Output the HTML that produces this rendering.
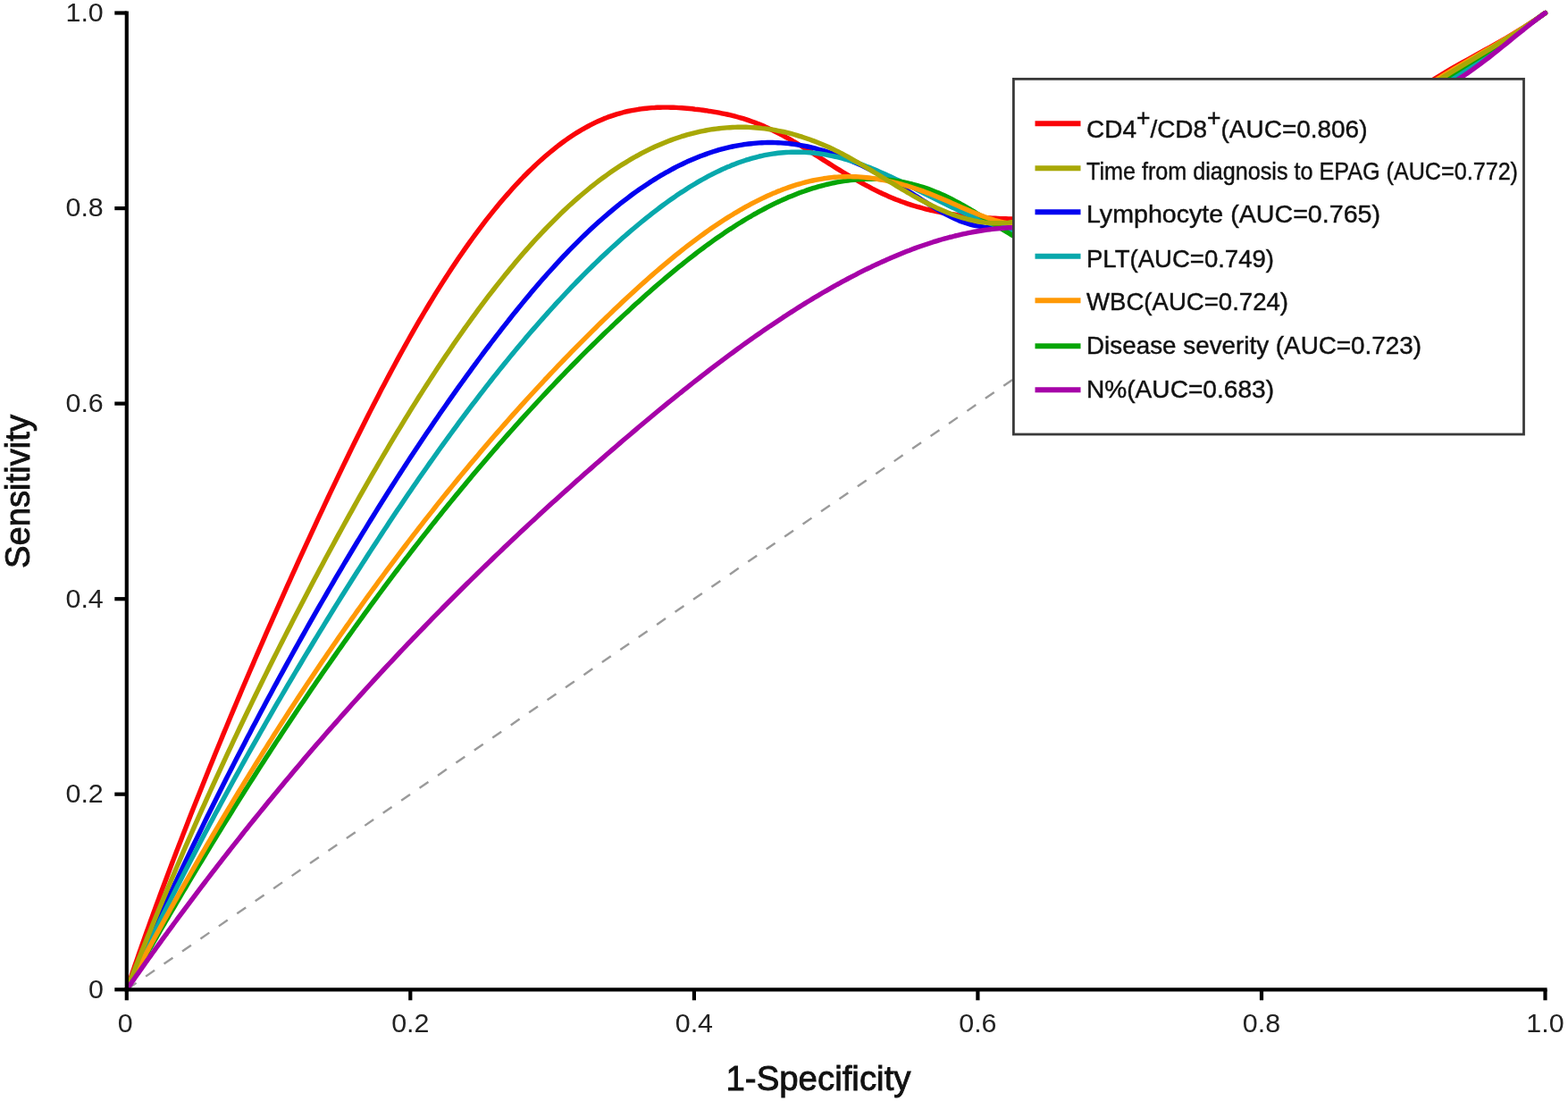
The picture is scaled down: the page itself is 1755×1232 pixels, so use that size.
<!DOCTYPE html>
<html><head><meta charset="utf-8"><title>ROC curves</title>
<style>
html,body{margin:0;padding:0;background:#fff;}
body{width:1755px;height:1232px;overflow:hidden;}
svg{display:block;}
.ax text{font-family:"Liberation Sans",Arial,sans-serif;font-size:29px;fill:#222;}
.leg text{font-family:"Liberation Sans",Arial,sans-serif;font-size:28.5px;fill:#111;stroke:#111;stroke-width:0.45px;}
.ttl{font-family:"Liberation Sans",Arial,sans-serif;font-size:39px;font-weight:normal;fill:#111;stroke:#111;stroke-width:0.9px;}
</style></head>
<body>
<svg width="1755" height="1232" viewBox="0 0 1755 1232">
<rect width="1755" height="1232" fill="#fff"/>
<line x1="141.8" y1="1107.3" x2="1729.5" y2="14.5" stroke="#9a9a9a" stroke-width="2.4" stroke-dasharray="12 12.8" stroke-dashoffset="23.7"/>
<g fill="none" stroke-width="5.4" stroke-linejoin="round" stroke-linecap="round">
<path d="M141.8,1107.3 L143.3,1102.9 L144.8,1098.4 L146.3,1094.0 L147.8,1089.7 L149.3,1085.3 L150.8,1080.9 L152.3,1076.6 L153.8,1072.3 L155.3,1068.0 L156.8,1063.7 L158.3,1059.4 L159.8,1055.2 L161.3,1051.0 L162.8,1046.7 L164.3,1042.5 L165.8,1038.4 L167.3,1034.2 L168.8,1030.0 L170.3,1025.9 L171.8,1021.7 L173.3,1017.6 L174.8,1013.5 L176.3,1009.4 L177.8,1005.4 L179.3,1001.3 L180.8,997.3 L182.3,993.2 L183.8,989.2 L185.3,985.2 L186.8,981.2 L188.3,977.2 L189.8,973.2 L191.3,969.3 L192.8,965.3 L194.3,961.4 L195.8,957.5 L197.3,953.5 L198.8,949.6 L200.3,945.7 L201.8,941.9 L204.8,934.1 L207.8,926.4 L210.8,918.7 L213.8,911.1 L216.8,903.5 L219.8,895.9 L222.8,888.4 L225.8,880.9 L228.8,873.4 L231.8,866.0 L234.8,858.6 L237.8,851.2 L240.8,843.8 L243.8,836.5 L246.8,829.2 L249.8,821.9 L252.8,814.7 L255.8,807.5 L258.8,800.3 L261.8,793.1 L264.8,786.0 L267.8,778.9 L270.8,771.8 L273.8,764.8 L276.8,757.7 L279.8,750.7 L282.8,743.8 L285.8,736.8 L288.8,729.9 L291.8,723.0 L294.8,716.1 L297.8,709.2 L300.8,702.4 L303.8,695.6 L306.8,688.8 L309.8,682.1 L312.8,675.3 L315.8,668.6 L318.8,661.9 L321.8,655.2 L324.8,648.6 L327.8,641.9 L330.8,635.3 L333.8,628.7 L336.8,622.2 L339.8,615.6 L342.8,609.1 L345.8,602.6 L348.8,596.1 L351.8,589.6 L354.8,583.1 L357.8,576.7 L360.8,570.3 L363.8,563.9 L366.8,557.5 L369.8,551.2 L372.8,544.9 L375.8,538.6 L378.8,532.3 L381.8,526.1 L384.8,519.9 L387.8,513.7 L390.8,507.5 L393.8,501.4 L396.8,495.3 L399.8,489.2 L402.8,483.2 L405.8,477.2 L408.8,471.2 L411.8,465.3 L414.8,459.4 L417.8,453.5 L420.8,447.7 L423.8,441.9 L426.8,436.1 L429.8,430.4 L432.8,424.7 L435.8,419.1 L438.8,413.5 L441.8,407.9 L444.8,402.4 L447.8,396.9 L450.8,391.5 L453.8,386.1 L456.8,380.7 L459.8,375.4 L462.8,370.1 L465.8,364.9 L468.8,359.7 L471.8,354.6 L474.8,349.5 L477.8,344.5 L480.8,339.5 L483.8,334.6 L486.8,329.7 L489.8,324.9 L492.8,320.1 L495.8,315.4 L498.8,310.7 L501.8,306.1 L504.8,301.5 L507.8,297.0 L510.8,292.5 L513.8,288.1 L516.8,283.7 L519.8,279.4 L522.8,275.1 L525.8,270.9 L528.8,266.7 L531.8,262.6 L534.8,258.6 L537.8,254.6 L540.8,250.6 L543.8,246.7 L546.8,242.9 L549.8,239.1 L552.8,235.4 L555.8,231.7 L558.8,228.1 L561.8,224.5 L564.8,221.0 L567.8,217.6 L570.8,214.2 L573.8,210.8 L576.8,207.5 L579.8,204.3 L582.8,201.2 L585.8,198.0 L588.8,195.0 L591.8,192.0 L594.8,189.1 L597.8,186.2 L600.8,183.4 L603.8,180.6 L606.8,177.9 L609.8,175.3 L612.8,172.7 L615.8,170.2 L618.8,167.8 L621.8,165.4 L624.8,163.0 L627.8,160.8 L630.8,158.5 L633.8,156.4 L636.8,154.3 L639.8,152.3 L642.8,150.3 L645.8,148.4 L648.8,146.6 L651.8,144.8 L654.8,143.1 L657.8,141.5 L660.8,139.9 L663.8,138.4 L666.8,136.9 L669.8,135.5 L672.8,134.2 L675.8,132.9 L678.8,131.8 L681.8,130.6 L684.8,129.6 L687.8,128.6 L690.8,127.6 L693.8,126.8 L696.8,126.0 L699.8,125.2 L702.8,124.5 L705.8,123.9 L708.8,123.3 L711.8,122.8 L714.8,122.3 L717.8,121.9 L720.8,121.5 L723.8,121.2 L726.8,120.9 L729.8,120.6 L732.8,120.5 L735.8,120.3 L738.8,120.2 L741.8,120.1 L744.8,120.1 L747.8,120.1 L750.8,120.2 L753.8,120.3 L756.8,120.4 L759.8,120.6 L762.8,120.8 L765.8,121.0 L768.8,121.2 L771.8,121.5 L774.8,121.8 L777.8,122.2 L780.8,122.5 L783.8,122.9 L786.8,123.3 L789.8,123.7 L792.8,124.2 L795.8,124.6 L798.8,125.1 L801.8,125.6 L804.8,126.2 L807.8,126.8 L810.8,127.4 L813.8,128.0 L816.8,128.7 L819.8,129.4 L822.8,130.2 L825.8,131.0 L828.8,131.8 L831.8,132.7 L834.8,133.6 L837.8,134.6 L840.8,135.7 L843.8,136.8 L846.8,137.9 L849.8,139.1 L852.8,140.3 L855.8,141.6 L858.8,143.0 L861.8,144.4 L864.8,145.8 L867.8,147.3 L870.8,148.8 L873.8,150.3 L876.8,151.9 L879.8,153.6 L882.8,155.2 L885.8,156.9 L888.8,158.7 L891.8,160.4 L894.8,162.2 L897.8,164.0 L900.8,165.9 L903.8,167.7 L906.8,169.6 L909.8,171.5 L912.8,173.4 L915.8,175.3 L918.8,177.2 L921.8,179.1 L924.8,181.0 L927.8,182.9 L930.8,184.8 L933.8,186.7 L936.8,188.6 L939.8,190.4 L942.8,192.2 L945.8,194.0 L948.8,195.8 L951.8,197.6 L954.8,199.3 L957.8,201.0 L960.8,202.7 L963.8,204.4 L966.8,206.0 L969.8,207.7 L972.8,209.2 L975.8,210.8 L978.8,212.3 L981.8,213.8 L984.8,215.3 L987.8,216.7 L990.8,218.0 L993.8,219.4 L996.8,220.7 L999.8,221.9 L1002.8,223.2 L1005.8,224.3 L1008.8,225.5 L1011.8,226.5 L1014.8,227.6 L1017.8,228.6 L1020.8,229.6 L1023.8,230.5 L1026.8,231.4 L1029.8,232.2 L1032.8,233.0 L1035.8,233.8 L1038.8,234.5 L1041.8,235.3 L1044.8,235.9 L1047.8,236.6 L1050.8,237.2 L1053.8,237.8 L1056.8,238.3 L1059.8,238.8 L1062.8,239.3 L1065.8,239.8 L1068.8,240.2 L1071.8,240.7 L1074.8,241.1 L1077.8,241.4 L1080.8,241.8 L1083.8,242.1 L1086.8,242.4 L1089.8,242.7 L1092.8,242.9 L1095.8,243.2 L1098.8,243.4 L1101.8,243.6 L1104.8,243.8 L1107.8,244.0 L1110.8,244.2 L1113.8,244.3 L1116.8,244.4 L1119.8,244.6 L1122.8,244.7 L1125.8,244.8 L1128.8,244.9 L1131.8,245.0 L1134.0,245.0 L1145.8,245.2 L1157.6,245.1 L1169.4,244.8 L1181.2,244.3 L1193.0,243.5 L1204.8,242.4 L1216.6,241.1 L1228.4,239.6 L1240.2,237.9 L1252.0,235.9 L1263.8,233.8 L1275.6,231.3 L1287.4,228.7 L1299.2,225.9 L1311.0,222.9 L1322.8,219.6 L1334.6,216.2 L1346.4,212.5 L1358.2,208.7 L1370.0,204.6 L1381.8,200.4 L1393.6,196.0 L1405.4,191.4 L1417.2,186.6 L1429.0,181.6 L1440.8,176.5 L1452.6,171.2 L1464.4,165.7 L1476.2,160.1 L1488.0,154.3 L1499.8,148.3 L1511.6,142.2 L1523.4,135.9 L1535.2,129.5 L1547.0,122.9 L1558.8,116.2 L1570.6,109.4 L1582.4,102.4 L1594.2,95.3 L1606.0,88.0 L1612.2,84.2 L1618.3,80.5 L1624.5,76.9 L1630.7,73.4 L1636.9,69.9 L1643.0,66.5 L1649.2,63.0 L1655.4,59.6 L1661.6,56.2 L1667.8,52.8 L1673.9,49.3 L1680.1,45.8 L1686.3,42.3 L1692.5,38.6 L1698.6,34.9 L1704.8,31.1 L1711.0,27.1 L1717.2,23.1 L1723.3,18.9 L1729.5,14.5" stroke="#fa0408"/>
<path d="M141.8,1107.3 L143.3,1103.9 L144.8,1100.5 L146.3,1097.1 L147.8,1093.8 L149.3,1090.4 L150.8,1087.0 L152.3,1083.7 L153.8,1080.3 L155.3,1077.0 L156.8,1073.6 L158.3,1070.3 L159.8,1067.0 L161.3,1063.7 L162.8,1060.3 L164.3,1057.0 L165.8,1053.7 L167.3,1050.4 L168.8,1047.2 L170.3,1043.9 L171.8,1040.6 L173.3,1037.3 L174.8,1034.1 L176.3,1030.8 L177.8,1027.5 L179.3,1024.3 L180.8,1021.1 L182.3,1017.8 L183.8,1014.6 L185.3,1011.4 L186.8,1008.2 L188.3,1004.9 L189.8,1001.7 L191.3,998.5 L192.8,995.3 L194.3,992.2 L195.8,989.0 L197.3,985.8 L198.8,982.6 L200.3,979.5 L201.8,976.3 L204.8,970.0 L207.8,963.7 L210.8,957.5 L213.8,951.2 L216.8,945.0 L219.8,938.9 L222.8,932.7 L225.8,926.6 L228.8,920.4 L231.8,914.3 L234.8,908.3 L237.8,902.2 L240.8,896.2 L243.8,890.2 L246.8,884.2 L249.8,878.3 L252.8,872.3 L255.8,866.4 L258.8,860.5 L261.8,854.6 L264.8,848.8 L267.8,843.0 L270.8,837.2 L273.8,831.4 L276.8,825.6 L279.8,819.9 L282.8,814.1 L285.8,808.4 L288.8,802.7 L291.8,797.1 L294.8,791.5 L297.8,785.8 L300.8,780.2 L303.8,774.7 L306.8,769.1 L309.8,763.6 L312.8,758.0 L315.8,752.6 L318.8,747.1 L321.8,741.6 L324.8,736.2 L327.8,730.8 L330.8,725.4 L333.8,720.0 L336.8,714.6 L339.8,709.3 L342.8,704.0 L345.8,698.7 L348.8,693.4 L351.8,688.1 L354.8,682.9 L357.8,677.7 L360.8,672.5 L363.8,667.3 L366.8,662.1 L369.8,657.0 L372.8,651.8 L375.8,646.7 L378.8,641.6 L381.8,636.6 L384.8,631.5 L387.8,626.5 L390.8,621.5 L393.8,616.5 L396.8,611.5 L399.8,606.5 L402.8,601.6 L405.8,596.7 L408.8,591.8 L411.8,586.9 L414.8,582.0 L417.8,577.2 L420.8,572.3 L423.8,567.5 L426.8,562.7 L429.8,558.0 L432.8,553.2 L435.8,548.5 L438.8,543.8 L441.8,539.1 L444.8,534.4 L447.8,529.7 L450.8,525.1 L453.8,520.5 L456.8,515.9 L459.8,511.3 L462.8,506.8 L465.8,502.2 L468.8,497.7 L471.8,493.2 L474.8,488.7 L477.8,484.3 L480.8,479.9 L483.8,475.4 L486.8,471.0 L489.8,466.7 L492.8,462.3 L495.8,458.0 L498.8,453.7 L501.8,449.4 L504.8,445.1 L507.8,440.9 L510.8,436.6 L513.8,432.4 L516.8,428.2 L519.8,424.1 L522.8,419.9 L525.8,415.8 L528.8,411.7 L531.8,407.6 L534.8,403.5 L537.8,399.5 L540.8,395.4 L543.8,391.4 L546.8,387.5 L549.8,383.5 L552.8,379.6 L555.8,375.7 L558.8,371.8 L561.8,367.9 L564.8,364.1 L567.8,360.3 L570.8,356.5 L573.8,352.7 L576.8,349.0 L579.8,345.3 L582.8,341.6 L585.8,337.9 L588.8,334.3 L591.8,330.7 L594.8,327.1 L597.8,323.6 L600.8,320.1 L603.8,316.6 L606.8,313.1 L609.8,309.7 L612.8,306.3 L615.8,303.0 L618.8,299.7 L621.8,296.4 L624.8,293.1 L627.8,289.9 L630.8,286.7 L633.8,283.6 L636.8,280.4 L639.8,277.4 L642.8,274.3 L645.8,271.3 L648.8,268.3 L651.8,265.4 L654.8,262.5 L657.8,259.6 L660.8,256.8 L663.8,254.0 L666.8,251.3 L669.8,248.6 L672.8,245.9 L675.8,243.3 L678.8,240.7 L681.8,238.1 L684.8,235.6 L687.8,233.1 L690.8,230.7 L693.8,228.2 L696.8,225.9 L699.8,223.6 L702.8,221.3 L705.8,219.0 L708.8,216.8 L711.8,214.6 L714.8,212.5 L717.8,210.4 L720.8,208.4 L723.8,206.4 L726.8,204.4 L729.8,202.5 L732.8,200.6 L735.8,198.7 L738.8,196.9 L741.8,195.2 L744.8,193.4 L747.8,191.8 L750.8,190.1 L753.8,188.5 L756.8,186.9 L759.8,185.4 L762.8,184.0 L765.8,182.5 L768.8,181.1 L771.8,179.8 L774.8,178.5 L777.8,177.2 L780.8,176.0 L783.8,174.8 L786.8,173.7 L789.8,172.6 L792.8,171.5 L795.8,170.5 L798.8,169.5 L801.8,168.6 L804.8,167.7 L807.8,166.9 L810.8,166.1 L813.8,165.4 L816.8,164.7 L819.8,164.0 L822.8,163.4 L825.8,162.8 L828.8,162.3 L831.8,161.8 L834.8,161.4 L837.8,161.0 L840.8,160.7 L843.8,160.4 L846.8,160.1 L849.8,159.9 L852.8,159.7 L855.8,159.6 L858.8,159.5 L861.8,159.5 L864.8,159.5 L867.8,159.6 L870.8,159.7 L873.8,159.9 L876.8,160.1 L879.8,160.3 L882.8,160.6 L885.8,161.0 L888.8,161.4 L891.8,161.8 L894.8,162.3 L897.8,162.8 L900.8,163.4 L903.8,164.0 L906.8,164.7 L909.8,165.4 L912.8,166.2 L915.8,167.0 L918.8,167.8 L921.8,168.7 L924.8,169.6 L927.8,170.6 L930.8,171.6 L933.8,172.6 L936.8,173.7 L939.8,174.8 L942.8,175.9 L945.8,177.1 L948.8,178.3 L951.8,179.6 L954.8,180.9 L957.8,182.2 L960.8,183.5 L963.8,184.9 L966.8,186.3 L969.8,187.8 L972.8,189.3 L975.8,190.8 L978.8,192.3 L981.8,193.9 L984.8,195.5 L987.8,197.1 L990.8,198.7 L993.8,200.4 L996.8,202.1 L999.8,203.8 L1002.8,205.6 L1005.8,207.4 L1008.8,209.2 L1011.8,211.0 L1014.8,212.8 L1017.8,214.7 L1020.8,216.6 L1023.8,218.5 L1026.8,220.4 L1029.8,222.3 L1032.8,224.2 L1035.8,226.1 L1038.8,228.0 L1041.8,229.9 L1044.8,231.8 L1047.8,233.6 L1050.8,235.4 L1053.8,237.1 L1056.8,238.8 L1059.8,240.4 L1062.8,241.9 L1065.8,243.4 L1068.8,244.8 L1071.8,246.1 L1074.8,247.4 L1077.8,248.5 L1080.8,249.5 L1083.8,250.4 L1086.8,251.3 L1089.8,252.0 L1092.8,252.7 L1095.8,253.2 L1098.8,253.7 L1101.8,254.2 L1104.8,254.5 L1107.8,254.8 L1110.8,255.0 L1113.8,255.1 L1116.8,255.2 L1119.8,255.2 L1122.8,255.2 L1125.8,255.1 L1128.8,254.9 L1131.8,254.8 L1134.0,254.6 L1146.2,253.5 L1158.3,252.3 L1170.5,250.9 L1182.7,249.3 L1194.9,247.7 L1207.0,245.8 L1219.2,243.8 L1231.4,241.7 L1243.6,239.4 L1255.8,237.0 L1267.9,234.4 L1280.1,231.6 L1292.3,228.7 L1304.5,225.7 L1316.6,222.5 L1328.8,219.1 L1341.0,215.5 L1353.2,211.8 L1365.3,208.0 L1377.5,204.0 L1389.7,199.8 L1401.8,195.4 L1414.0,190.9 L1426.2,186.2 L1438.4,181.4 L1450.5,176.3 L1462.7,171.2 L1474.9,165.8 L1487.1,160.3 L1499.2,154.6 L1511.4,148.7 L1523.6,142.7 L1535.8,136.5 L1548.0,130.1 L1560.1,123.5 L1572.3,116.8 L1584.5,109.8 L1596.7,102.7 L1608.8,95.5 L1621.0,88.0 L1626.4,84.6 L1631.8,81.2 L1637.3,77.7 L1642.7,74.2 L1648.1,70.7 L1653.5,67.2 L1659.0,63.6 L1664.4,59.9 L1669.8,56.3 L1675.2,52.6 L1680.7,48.9 L1686.1,45.2 L1691.5,41.4 L1697.0,37.6 L1702.4,33.8 L1707.8,30.0 L1713.2,26.1 L1718.7,22.3 L1724.1,18.4 L1729.5,14.5" stroke="#0202f0"/>
<path d="M141.8,1107.3 L143.3,1104.1 L144.8,1101.0 L146.3,1097.8 L147.8,1094.7 L149.3,1091.5 L150.8,1088.4 L152.3,1085.3 L153.8,1082.2 L155.3,1079.0 L156.8,1075.9 L158.3,1072.8 L159.8,1069.7 L161.3,1066.7 L162.8,1063.6 L164.3,1060.5 L165.8,1057.4 L167.3,1054.4 L168.8,1051.3 L170.3,1048.2 L171.8,1045.2 L173.3,1042.2 L174.8,1039.1 L176.3,1036.1 L177.8,1033.1 L179.3,1030.0 L180.8,1027.0 L182.3,1024.0 L183.8,1021.0 L185.3,1018.0 L186.8,1015.0 L188.3,1012.1 L189.8,1009.1 L191.3,1006.1 L192.8,1003.1 L194.3,1000.2 L195.8,997.2 L197.3,994.3 L198.8,991.3 L200.3,988.4 L201.8,985.5 L204.8,979.6 L207.8,973.8 L210.8,968.0 L213.8,962.2 L216.8,956.5 L219.8,950.7 L222.8,945.0 L225.8,939.3 L228.8,933.6 L231.8,928.0 L234.8,922.3 L237.8,916.7 L240.8,911.1 L243.8,905.6 L246.8,900.0 L249.8,894.5 L252.8,889.0 L255.8,883.5 L258.8,878.0 L261.8,872.5 L264.8,867.1 L267.8,861.7 L270.8,856.3 L273.8,850.9 L276.8,845.5 L279.8,840.2 L282.8,834.9 L285.8,829.6 L288.8,824.3 L291.8,819.0 L294.8,813.8 L297.8,808.5 L300.8,803.3 L303.8,798.1 L306.8,792.9 L309.8,787.7 L312.8,782.6 L315.8,777.5 L318.8,772.3 L321.8,767.2 L324.8,762.1 L327.8,757.1 L330.8,752.0 L333.8,747.0 L336.8,742.0 L339.8,736.9 L342.8,731.9 L345.8,727.0 L348.8,722.0 L351.8,717.0 L354.8,712.1 L357.8,707.2 L360.8,702.3 L363.8,697.4 L366.8,692.5 L369.8,687.6 L372.8,682.8 L375.8,677.9 L378.8,673.1 L381.8,668.3 L384.8,663.5 L387.8,658.7 L390.8,654.0 L393.8,649.2 L396.8,644.5 L399.8,639.8 L402.8,635.1 L405.8,630.4 L408.8,625.7 L411.8,621.0 L414.8,616.4 L417.8,611.8 L420.8,607.2 L423.8,602.6 L426.8,598.0 L429.8,593.4 L432.8,588.9 L435.8,584.3 L438.8,579.8 L441.8,575.3 L444.8,570.8 L447.8,566.4 L450.8,561.9 L453.8,557.5 L456.8,553.1 L459.8,548.7 L462.8,544.3 L465.8,540.0 L468.8,535.6 L471.8,531.3 L474.8,527.0 L477.8,522.7 L480.8,518.4 L483.8,514.2 L486.8,510.0 L489.8,505.7 L492.8,501.5 L495.8,497.4 L498.8,493.2 L501.8,489.1 L504.8,485.0 L507.8,480.9 L510.8,476.8 L513.8,472.7 L516.8,468.7 L519.8,464.7 L522.8,460.6 L525.8,456.7 L528.8,452.7 L531.8,448.8 L534.8,444.8 L537.8,440.9 L540.8,437.1 L543.8,433.2 L546.8,429.4 L549.8,425.5 L552.8,421.7 L555.8,418.0 L558.8,414.2 L561.8,410.5 L564.8,406.8 L567.8,403.1 L570.8,399.4 L573.8,395.8 L576.8,392.1 L579.8,388.5 L582.8,384.9 L585.8,381.4 L588.8,377.8 L591.8,374.3 L594.8,370.8 L597.8,367.4 L600.8,363.9 L603.8,360.5 L606.8,357.1 L609.8,353.7 L612.8,350.4 L615.8,347.0 L618.8,343.7 L621.8,340.4 L624.8,337.2 L627.8,334.0 L630.8,330.7 L633.8,327.5 L636.8,324.4 L639.8,321.2 L642.8,318.1 L645.8,315.0 L648.8,312.0 L651.8,308.9 L654.8,305.9 L657.8,302.9 L660.8,300.0 L663.8,297.0 L666.8,294.1 L669.8,291.2 L672.8,288.3 L675.8,285.5 L678.8,282.7 L681.8,279.9 L684.8,277.1 L687.8,274.4 L690.8,271.7 L693.8,269.0 L696.8,266.3 L699.8,263.7 L702.8,261.1 L705.8,258.5 L708.8,256.0 L711.8,253.5 L714.8,251.0 L717.8,248.5 L720.8,246.1 L723.8,243.6 L726.8,241.3 L729.8,238.9 L732.8,236.6 L735.8,234.3 L738.8,232.0 L741.8,229.8 L744.8,227.6 L747.8,225.4 L750.8,223.3 L753.8,221.2 L756.8,219.1 L759.8,217.1 L762.8,215.1 L765.8,213.2 L768.8,211.2 L771.8,209.3 L774.8,207.5 L777.8,205.7 L780.8,203.9 L783.8,202.2 L786.8,200.5 L789.8,198.8 L792.8,197.2 L795.8,195.7 L798.8,194.1 L801.8,192.6 L804.8,191.2 L807.8,189.8 L810.8,188.4 L813.8,187.1 L816.8,185.9 L819.8,184.6 L822.8,183.5 L825.8,182.3 L828.8,181.2 L831.8,180.2 L834.8,179.2 L837.8,178.3 L840.8,177.4 L843.8,176.6 L846.8,175.8 L849.8,175.0 L852.8,174.3 L855.8,173.7 L858.8,173.1 L861.8,172.6 L864.8,172.1 L867.8,171.7 L870.8,171.3 L873.8,171.0 L876.8,170.7 L879.8,170.5 L882.8,170.4 L885.8,170.2 L888.8,170.2 L891.8,170.2 L894.8,170.2 L897.8,170.3 L900.8,170.4 L903.8,170.6 L906.8,170.8 L909.8,171.1 L912.8,171.4 L915.8,171.8 L918.8,172.2 L921.8,172.7 L924.8,173.2 L927.8,173.8 L930.8,174.4 L933.8,175.0 L936.8,175.7 L939.8,176.4 L942.8,177.2 L945.8,178.1 L948.8,178.9 L951.8,179.8 L954.8,180.8 L957.8,181.8 L960.8,182.8 L963.8,183.9 L966.8,185.0 L969.8,186.2 L972.8,187.3 L975.8,188.6 L978.8,189.8 L981.8,191.1 L984.8,192.4 L987.8,193.7 L990.8,195.0 L993.8,196.4 L996.8,197.8 L999.8,199.2 L1002.8,200.6 L1005.8,202.0 L1008.8,203.5 L1011.8,205.0 L1014.8,206.5 L1017.8,207.9 L1020.8,209.4 L1023.8,210.9 L1026.8,212.5 L1029.8,214.0 L1032.8,215.5 L1035.8,217.0 L1038.8,218.5 L1041.8,220.1 L1044.8,221.6 L1047.8,223.1 L1050.8,224.6 L1053.8,226.1 L1056.8,227.6 L1059.8,229.0 L1062.8,230.5 L1065.8,232.0 L1068.8,233.4 L1071.8,234.8 L1074.8,236.2 L1077.8,237.6 L1080.8,238.9 L1083.8,240.3 L1086.8,241.6 L1089.8,242.9 L1092.8,244.1 L1095.8,245.3 L1098.8,246.5 L1101.8,247.7 L1104.8,248.8 L1107.8,249.9 L1110.8,251.0 L1113.8,252.0 L1116.8,253.0 L1119.8,253.9 L1122.8,254.8 L1125.8,255.7 L1128.8,256.5 L1131.8,257.2 L1134.0,257.8 L1146.2,260.4 L1158.5,262.4 L1170.8,264.0 L1183.0,265.0 L1195.2,265.6 L1207.5,265.7 L1219.8,265.3 L1232.0,264.5 L1244.2,263.2 L1256.5,261.6 L1268.8,259.5 L1281.0,257.0 L1293.2,254.2 L1305.5,251.0 L1317.8,247.5 L1330.0,243.6 L1342.2,239.5 L1354.5,235.0 L1366.8,230.2 L1379.0,225.1 L1391.2,219.8 L1403.5,214.3 L1415.8,208.5 L1428.0,202.5 L1440.2,196.3 L1452.5,189.9 L1464.8,183.3 L1477.0,176.5 L1489.2,169.6 L1501.5,162.6 L1513.8,155.5 L1526.0,148.2 L1538.2,140.9 L1550.5,133.4 L1562.8,125.9 L1575.0,118.4 L1587.2,110.8 L1599.5,103.2 L1611.8,95.6 L1624.0,88.0 L1629.3,84.7 L1634.5,81.3 L1639.8,77.9 L1645.1,74.4 L1650.4,70.9 L1655.7,67.3 L1660.9,63.7 L1666.2,60.0 L1671.5,56.3 L1676.8,52.6 L1682.0,48.8 L1687.3,45.0 L1692.6,41.2 L1697.8,37.4 L1703.1,33.6 L1708.4,29.8 L1713.7,25.9 L1719.0,22.1 L1724.2,18.3 L1729.5,14.5" stroke="#08a8ac"/>
<path d="M141.8,1107.3 L143.3,1104.6 L144.8,1102.0 L146.3,1099.3 L147.8,1096.6 L149.3,1094.0 L150.8,1091.3 L152.3,1088.7 L153.8,1086.0 L155.3,1083.4 L156.8,1080.7 L158.3,1078.1 L159.8,1075.5 L161.3,1072.8 L162.8,1070.2 L164.3,1067.6 L165.8,1065.0 L167.3,1062.3 L168.8,1059.7 L170.3,1057.1 L171.8,1054.5 L173.3,1051.9 L174.8,1049.3 L176.3,1046.7 L177.8,1044.1 L179.3,1041.5 L180.8,1038.9 L182.3,1036.4 L183.8,1033.8 L185.3,1031.2 L186.8,1028.6 L188.3,1026.1 L189.8,1023.5 L191.3,1020.9 L192.8,1018.4 L194.3,1015.8 L195.8,1013.3 L197.3,1010.7 L198.8,1008.2 L200.3,1005.6 L201.8,1003.1 L204.8,998.0 L207.8,993.0 L210.8,987.9 L213.8,982.9 L216.8,977.9 L219.8,972.9 L222.8,967.9 L225.8,963.0 L228.8,958.0 L231.8,953.1 L234.8,948.1 L237.8,943.2 L240.8,938.3 L243.8,933.4 L246.8,928.6 L249.8,923.7 L252.8,918.9 L255.8,914.0 L258.8,909.2 L261.8,904.4 L264.8,899.6 L267.8,894.8 L270.8,890.1 L273.8,885.3 L276.8,880.6 L279.8,875.9 L282.8,871.2 L285.8,866.5 L288.8,861.8 L291.8,857.1 L294.8,852.5 L297.8,847.8 L300.8,843.2 L303.8,838.6 L306.8,834.0 L309.8,829.4 L312.8,824.9 L315.8,820.3 L318.8,815.8 L321.8,811.2 L324.8,806.7 L327.8,802.2 L330.8,797.7 L333.8,793.3 L336.8,788.8 L339.8,784.4 L342.8,779.9 L345.8,775.5 L348.8,771.1 L351.8,766.7 L354.8,762.3 L357.8,758.0 L360.8,753.6 L363.8,749.3 L366.8,745.0 L369.8,740.7 L372.8,736.4 L375.8,732.1 L378.8,727.8 L381.8,723.6 L384.8,719.3 L387.8,715.1 L390.8,710.9 L393.8,706.7 L396.8,702.5 L399.8,698.4 L402.8,694.2 L405.8,690.1 L408.8,685.9 L411.8,681.8 L414.8,677.7 L417.8,673.6 L420.8,669.6 L423.8,665.5 L426.8,661.5 L429.8,657.4 L432.8,653.4 L435.8,649.4 L438.8,645.4 L441.8,641.4 L444.8,637.5 L447.8,633.5 L450.8,629.6 L453.8,625.7 L456.8,621.8 L459.8,617.9 L462.8,614.0 L465.8,610.1 L468.8,606.3 L471.8,602.4 L474.8,598.6 L477.8,594.8 L480.8,591.0 L483.8,587.2 L486.8,583.5 L489.8,579.7 L492.8,576.0 L495.8,572.2 L498.8,568.5 L501.8,564.8 L504.8,561.1 L507.8,557.5 L510.8,553.8 L513.8,550.2 L516.8,546.5 L519.8,542.9 L522.8,539.3 L525.8,535.7 L528.8,532.1 L531.8,528.6 L534.8,525.0 L537.8,521.5 L540.8,518.0 L543.8,514.5 L546.8,511.0 L549.8,507.5 L552.8,504.0 L555.8,500.6 L558.8,497.1 L561.8,493.7 L564.8,490.3 L567.8,486.9 L570.8,483.5 L573.8,480.2 L576.8,476.8 L579.8,473.5 L582.8,470.1 L585.8,466.8 L588.8,463.5 L591.8,460.2 L594.8,457.0 L597.8,453.7 L600.8,450.5 L603.8,447.2 L606.8,444.0 L609.8,440.8 L612.8,437.6 L615.8,434.4 L618.8,431.3 L621.8,428.1 L624.8,425.0 L627.8,421.9 L630.8,418.8 L633.8,415.7 L636.8,412.6 L639.8,409.5 L642.8,406.5 L645.8,403.5 L648.8,400.4 L651.8,397.4 L654.8,394.4 L657.8,391.4 L660.8,388.5 L663.8,385.5 L666.8,382.6 L669.8,379.6 L672.8,376.7 L675.8,373.8 L678.8,370.9 L681.8,368.1 L684.8,365.2 L687.8,362.4 L690.8,359.5 L693.8,356.7 L696.8,353.9 L699.8,351.1 L702.8,348.4 L705.8,345.6 L708.8,342.8 L711.8,340.1 L714.8,337.4 L717.8,334.7 L720.8,332.0 L723.8,329.3 L726.8,326.7 L729.8,324.0 L732.8,321.4 L735.8,318.8 L738.8,316.2 L741.8,313.7 L744.8,311.1 L747.8,308.6 L750.8,306.1 L753.8,303.6 L756.8,301.1 L759.8,298.7 L762.8,296.3 L765.8,293.9 L768.8,291.5 L771.8,289.1 L774.8,286.8 L777.8,284.5 L780.8,282.2 L783.8,279.9 L786.8,277.7 L789.8,275.4 L792.8,273.3 L795.8,271.1 L798.8,268.9 L801.8,266.8 L804.8,264.7 L807.8,262.7 L810.8,260.6 L813.8,258.6 L816.8,256.6 L819.8,254.7 L822.8,252.7 L825.8,250.8 L828.8,249.0 L831.8,247.1 L834.8,245.3 L837.8,243.5 L840.8,241.8 L843.8,240.0 L846.8,238.4 L849.8,236.7 L852.8,235.1 L855.8,233.5 L858.8,231.9 L861.8,230.4 L864.8,228.9 L867.8,227.4 L870.8,226.0 L873.8,224.6 L876.8,223.2 L879.8,221.9 L882.8,220.6 L885.8,219.4 L888.8,218.2 L891.8,217.0 L894.8,215.8 L897.8,214.7 L900.8,213.7 L903.8,212.6 L906.8,211.6 L909.8,210.7 L912.8,209.8 L915.8,208.9 L918.8,208.1 L921.8,207.3 L924.8,206.5 L927.8,205.8 L930.8,205.1 L933.8,204.5 L936.8,203.9 L939.8,203.4 L942.8,202.9 L945.8,202.4 L948.8,202.0 L951.8,201.6 L954.8,201.3 L957.8,201.0 L960.8,200.8 L963.8,200.6 L966.8,200.5 L969.8,200.4 L972.8,200.3 L975.8,200.3 L978.8,200.3 L981.8,200.4 L984.8,200.6 L987.8,200.7 L990.8,201.0 L993.8,201.3 L996.8,201.6 L999.8,202.0 L1002.8,202.4 L1005.8,202.9 L1008.8,203.4 L1011.8,204.0 L1014.8,204.6 L1017.8,205.3 L1020.8,206.0 L1023.8,206.8 L1026.8,207.6 L1029.8,208.5 L1032.8,209.4 L1035.8,210.4 L1038.8,211.4 L1041.8,212.5 L1044.8,213.7 L1047.8,214.9 L1050.8,216.1 L1053.8,217.4 L1056.8,218.8 L1059.8,220.2 L1062.8,221.7 L1065.8,223.2 L1068.8,224.8 L1071.8,226.4 L1074.8,228.0 L1077.8,229.7 L1080.8,231.4 L1083.8,233.1 L1086.8,234.9 L1089.8,236.6 L1092.8,238.5 L1095.8,240.3 L1098.8,242.1 L1101.8,244.0 L1104.8,245.8 L1107.8,247.7 L1110.8,249.6 L1113.8,251.5 L1116.8,253.3 L1119.8,255.2 L1122.8,257.1 L1125.8,258.9 L1128.8,260.8 L1131.8,262.6 L1134.0,263.9 L1146.1,270.7 L1158.2,276.5 L1170.2,281.3 L1182.3,285.2 L1194.4,288.2 L1206.5,290.4 L1218.5,291.8 L1230.6,292.4 L1242.7,292.2 L1254.8,291.3 L1266.8,289.7 L1278.9,287.5 L1291.0,284.6 L1303.0,281.1 L1315.1,277.1 L1327.2,272.5 L1339.3,267.5 L1351.3,262.0 L1363.4,256.0 L1375.5,249.7 L1387.6,243.0 L1399.7,235.9 L1411.7,228.5 L1423.8,220.9 L1435.9,213.0 L1448.0,205.0 L1460.0,196.7 L1472.1,188.3 L1484.2,179.8 L1496.2,171.2 L1508.3,162.6 L1520.4,153.9 L1532.5,145.3 L1544.5,136.7 L1556.6,128.2 L1568.7,119.8 L1580.8,111.5 L1592.8,103.5 L1604.9,95.6 L1617.0,88.0 L1622.6,84.5 L1628.2,81.0 L1633.9,77.5 L1639.5,74.0 L1645.1,70.5 L1650.8,67.0 L1656.4,63.4 L1662.0,59.9 L1667.6,56.3 L1673.2,52.7 L1678.9,49.0 L1684.5,45.3 L1690.1,41.6 L1695.8,37.9 L1701.4,34.1 L1707.0,30.3 L1712.6,26.4 L1718.2,22.5 L1723.9,18.5 L1729.5,14.5" stroke="#06a506"/>
<path d="M141.8,1107.3 L143.3,1104.5 L144.8,1101.7 L146.3,1098.8 L147.8,1096.0 L149.3,1093.2 L150.8,1090.4 L152.3,1087.6 L153.8,1084.8 L155.3,1082.0 L156.8,1079.2 L158.3,1076.4 L159.8,1073.7 L161.3,1070.9 L162.8,1068.1 L164.3,1065.3 L165.8,1062.6 L167.3,1059.8 L168.8,1057.1 L170.3,1054.3 L171.8,1051.6 L173.3,1048.8 L174.8,1046.1 L176.3,1043.4 L177.8,1040.7 L179.3,1037.9 L180.8,1035.2 L182.3,1032.5 L183.8,1029.8 L185.3,1027.1 L186.8,1024.4 L188.3,1021.7 L189.8,1019.0 L191.3,1016.3 L192.8,1013.6 L194.3,1011.0 L195.8,1008.3 L197.3,1005.6 L198.8,1003.0 L200.3,1000.3 L201.8,997.6 L204.8,992.3 L207.8,987.1 L210.8,981.8 L213.8,976.5 L216.8,971.3 L219.8,966.1 L222.8,960.9 L225.8,955.7 L228.8,950.6 L231.8,945.4 L234.8,940.3 L237.8,935.2 L240.8,930.1 L243.8,925.0 L246.8,920.0 L249.8,914.9 L252.8,909.9 L255.8,904.9 L258.8,899.9 L261.8,894.9 L264.8,890.0 L267.8,885.0 L270.8,880.1 L273.8,875.2 L276.8,870.3 L279.8,865.4 L282.8,860.6 L285.8,855.8 L288.8,850.9 L291.8,846.1 L294.8,841.3 L297.8,836.6 L300.8,831.8 L303.8,827.1 L306.8,822.3 L309.8,817.6 L312.8,812.9 L315.8,808.3 L318.8,803.6 L321.8,799.0 L324.8,794.3 L327.8,789.7 L330.8,785.1 L333.8,780.6 L336.8,776.0 L339.8,771.5 L342.8,766.9 L345.8,762.4 L348.8,757.9 L351.8,753.4 L354.8,749.0 L357.8,744.5 L360.8,740.1 L363.8,735.7 L366.8,731.3 L369.8,726.9 L372.8,722.5 L375.8,718.2 L378.8,713.8 L381.8,709.5 L384.8,705.2 L387.8,700.9 L390.8,696.7 L393.8,692.4 L396.8,688.2 L399.8,683.9 L402.8,679.7 L405.8,675.5 L408.8,671.3 L411.8,667.2 L414.8,663.0 L417.8,658.9 L420.8,654.8 L423.8,650.7 L426.8,646.6 L429.8,642.5 L432.8,638.4 L435.8,634.4 L438.8,630.4 L441.8,626.4 L444.8,622.4 L447.8,618.4 L450.8,614.4 L453.8,610.5 L456.8,606.5 L459.8,602.6 L462.8,598.7 L465.8,594.8 L468.8,590.9 L471.8,587.1 L474.8,583.2 L477.8,579.4 L480.8,575.6 L483.8,571.8 L486.8,568.0 L489.8,564.2 L492.8,560.5 L495.8,556.7 L498.8,553.0 L501.8,549.3 L504.8,545.6 L507.8,541.9 L510.8,538.2 L513.8,534.6 L516.8,530.9 L519.8,527.3 L522.8,523.7 L525.8,520.1 L528.8,516.5 L531.8,512.9 L534.8,509.4 L537.8,505.8 L540.8,502.3 L543.8,498.8 L546.8,495.3 L549.8,491.8 L552.8,488.3 L555.8,484.9 L558.8,481.4 L561.8,478.0 L564.8,474.6 L567.8,471.2 L570.8,467.8 L573.8,464.4 L576.8,461.1 L579.8,457.7 L582.8,454.4 L585.8,451.1 L588.8,447.8 L591.8,444.5 L594.8,441.2 L597.8,438.0 L600.8,434.7 L603.8,431.5 L606.8,428.3 L609.8,425.0 L612.8,421.9 L615.8,418.7 L618.8,415.5 L621.8,412.4 L624.8,409.2 L627.8,406.1 L630.8,403.0 L633.8,399.9 L636.8,396.8 L639.8,393.7 L642.8,390.7 L645.8,387.6 L648.8,384.6 L651.8,381.6 L654.8,378.6 L657.8,375.6 L660.8,372.6 L663.8,369.6 L666.8,366.7 L669.8,363.7 L672.8,360.8 L675.8,357.9 L678.8,355.0 L681.8,352.1 L684.8,349.2 L687.8,346.3 L690.8,343.5 L693.8,340.7 L696.8,337.8 L699.8,335.0 L702.8,332.2 L705.8,329.5 L708.8,326.7 L711.8,324.0 L714.8,321.3 L717.8,318.5 L720.8,315.9 L723.8,313.2 L726.8,310.5 L729.8,307.9 L732.8,305.3 L735.8,302.7 L738.8,300.1 L741.8,297.6 L744.8,295.1 L747.8,292.6 L750.8,290.1 L753.8,287.6 L756.8,285.2 L759.8,282.8 L762.8,280.4 L765.8,278.0 L768.8,275.7 L771.8,273.4 L774.8,271.1 L777.8,268.8 L780.8,266.6 L783.8,264.4 L786.8,262.2 L789.8,260.0 L792.8,257.9 L795.8,255.8 L798.8,253.7 L801.8,251.7 L804.8,249.7 L807.8,247.7 L810.8,245.8 L813.8,243.9 L816.8,242.0 L819.8,240.2 L822.8,238.3 L825.8,236.6 L828.8,234.8 L831.8,233.1 L834.8,231.4 L837.8,229.8 L840.8,228.2 L843.8,226.6 L846.8,225.1 L849.8,223.6 L852.8,222.1 L855.8,220.7 L858.8,219.3 L861.8,218.0 L864.8,216.6 L867.8,215.4 L870.8,214.1 L873.8,213.0 L876.8,211.8 L879.8,210.7 L882.8,209.6 L885.8,208.6 L888.8,207.6 L891.8,206.7 L894.8,205.8 L897.8,205.0 L900.8,204.2 L903.8,203.4 L906.8,202.7 L909.8,202.0 L912.8,201.4 L915.8,200.8 L918.8,200.3 L921.8,199.8 L924.8,199.4 L927.8,199.0 L930.8,198.6 L933.8,198.3 L936.8,198.1 L939.8,197.9 L942.8,197.8 L945.8,197.7 L948.8,197.6 L951.8,197.6 L954.8,197.7 L957.8,197.8 L960.8,197.9 L963.8,198.1 L966.8,198.4 L969.8,198.7 L972.8,199.0 L975.8,199.4 L978.8,199.8 L981.8,200.3 L984.8,200.8 L987.8,201.3 L990.8,201.9 L993.8,202.5 L996.8,203.2 L999.8,203.9 L1002.8,204.6 L1005.8,205.4 L1008.8,206.2 L1011.8,207.0 L1014.8,207.9 L1017.8,208.8 L1020.8,209.8 L1023.8,210.8 L1026.8,211.8 L1029.8,212.8 L1032.8,213.9 L1035.8,215.0 L1038.8,216.1 L1041.8,217.3 L1044.8,218.5 L1047.8,219.7 L1050.8,220.9 L1053.8,222.2 L1056.8,223.5 L1059.8,224.8 L1062.8,226.1 L1065.8,227.4 L1068.8,228.7 L1071.8,230.1 L1074.8,231.4 L1077.8,232.7 L1080.8,234.0 L1083.8,235.3 L1086.8,236.6 L1089.8,237.8 L1092.8,239.0 L1095.8,240.2 L1098.8,241.4 L1101.8,242.5 L1104.8,243.5 L1107.8,244.6 L1110.8,245.5 L1113.8,246.5 L1116.8,247.3 L1119.8,248.1 L1122.8,248.8 L1125.8,249.5 L1128.8,250.1 L1131.8,250.6 L1134.0,250.9 L1145.9,252.3 L1157.8,253.4 L1169.7,254.0 L1181.5,254.3 L1193.4,254.2 L1205.3,253.7 L1217.2,252.9 L1229.1,251.7 L1241.0,250.2 L1252.9,248.4 L1264.8,246.3 L1276.7,243.8 L1288.5,241.1 L1300.4,238.1 L1312.3,234.8 L1324.2,231.2 L1336.1,227.4 L1348.0,223.3 L1359.9,219.0 L1371.8,214.4 L1383.6,209.6 L1395.5,204.6 L1407.4,199.4 L1419.3,194.0 L1431.2,188.4 L1443.1,182.7 L1455.0,176.7 L1466.8,170.6 L1478.7,164.4 L1490.6,158.0 L1502.5,151.4 L1514.4,144.8 L1526.3,138.0 L1538.2,131.1 L1550.1,124.1 L1562.0,117.0 L1573.8,109.9 L1585.7,102.6 L1597.6,95.3 L1609.5,88.0 L1615.5,84.3 L1621.5,80.7 L1627.5,77.1 L1633.5,73.6 L1639.5,70.1 L1645.5,66.6 L1651.5,63.2 L1657.5,59.7 L1663.5,56.2 L1669.5,52.8 L1675.5,49.2 L1681.5,45.7 L1687.5,42.1 L1693.5,38.4 L1699.5,34.6 L1705.5,30.8 L1711.5,26.9 L1717.5,22.9 L1723.5,18.8 L1729.5,14.5" stroke="#ff9905"/>
<path d="M141.8,1107.3 L143.3,1103.5 L144.8,1099.6 L146.3,1095.8 L147.8,1092.0 L149.3,1088.2 L150.8,1084.4 L152.3,1080.6 L153.8,1076.9 L155.3,1073.1 L156.8,1069.4 L158.3,1065.6 L159.8,1061.9 L161.3,1058.2 L162.8,1054.5 L164.3,1050.7 L165.8,1047.1 L167.3,1043.4 L168.8,1039.7 L170.3,1036.0 L171.8,1032.4 L173.3,1028.7 L174.8,1025.1 L176.3,1021.4 L177.8,1017.8 L179.3,1014.2 L180.8,1010.6 L182.3,1007.0 L183.8,1003.4 L185.3,999.9 L186.8,996.3 L188.3,992.7 L189.8,989.2 L191.3,985.6 L192.8,982.1 L194.3,978.6 L195.8,975.1 L197.3,971.5 L198.8,968.0 L200.3,964.6 L201.8,961.1 L204.8,954.1 L207.8,947.2 L210.8,940.3 L213.8,933.5 L216.8,926.7 L219.8,919.9 L222.8,913.2 L225.8,906.4 L228.8,899.8 L231.8,893.1 L234.8,886.5 L237.8,879.9 L240.8,873.3 L243.8,866.8 L246.8,860.3 L249.8,853.8 L252.8,847.4 L255.8,840.9 L258.8,834.6 L261.8,828.2 L264.8,821.8 L267.8,815.5 L270.8,809.3 L273.8,803.0 L276.8,796.8 L279.8,790.6 L282.8,784.4 L285.8,778.2 L288.8,772.1 L291.8,766.0 L294.8,759.9 L297.8,753.9 L300.8,747.8 L303.8,741.8 L306.8,735.8 L309.8,729.9 L312.8,723.9 L315.8,718.0 L318.8,712.1 L321.8,706.2 L324.8,700.4 L327.8,694.6 L330.8,688.8 L333.8,683.0 L336.8,677.2 L339.8,671.4 L342.8,665.7 L345.8,660.0 L348.8,654.3 L351.8,648.6 L354.8,643.0 L357.8,637.3 L360.8,631.7 L363.8,626.1 L366.8,620.5 L369.8,615.0 L372.8,609.4 L375.8,603.9 L378.8,598.4 L381.8,593.0 L384.8,587.5 L387.8,582.1 L390.8,576.6 L393.8,571.3 L396.8,565.9 L399.8,560.5 L402.8,555.2 L405.8,549.9 L408.8,544.6 L411.8,539.4 L414.8,534.2 L417.8,528.9 L420.8,523.8 L423.8,518.6 L426.8,513.5 L429.8,508.4 L432.8,503.3 L435.8,498.2 L438.8,493.2 L441.8,488.2 L444.8,483.2 L447.8,478.3 L450.8,473.3 L453.8,468.4 L456.8,463.6 L459.8,458.7 L462.8,453.9 L465.8,449.1 L468.8,444.3 L471.8,439.6 L474.8,434.9 L477.8,430.2 L480.8,425.6 L483.8,421.0 L486.8,416.4 L489.8,411.8 L492.8,407.3 L495.8,402.8 L498.8,398.3 L501.8,393.9 L504.8,389.5 L507.8,385.1 L510.8,380.8 L513.8,376.5 L516.8,372.2 L519.8,367.9 L522.8,363.7 L525.8,359.6 L528.8,355.4 L531.8,351.3 L534.8,347.2 L537.8,343.2 L540.8,339.2 L543.8,335.2 L546.8,331.2 L549.8,327.3 L552.8,323.5 L555.8,319.6 L558.8,315.8 L561.8,312.1 L564.8,308.3 L567.8,304.7 L570.8,301.0 L573.8,297.4 L576.8,293.8 L579.8,290.3 L582.8,286.8 L585.8,283.3 L588.8,279.9 L591.8,276.5 L594.8,273.1 L597.8,269.8 L600.8,266.5 L603.8,263.3 L606.8,260.1 L609.8,257.0 L612.8,253.9 L615.8,250.8 L618.8,247.8 L621.8,244.8 L624.8,241.8 L627.8,238.9 L630.8,236.0 L633.8,233.2 L636.8,230.4 L639.8,227.7 L642.8,225.0 L645.8,222.4 L648.8,219.7 L651.8,217.2 L654.8,214.7 L657.8,212.2 L660.8,209.7 L663.8,207.4 L666.8,205.0 L669.8,202.7 L672.8,200.4 L675.8,198.2 L678.8,196.1 L681.8,193.9 L684.8,191.8 L687.8,189.8 L690.8,187.8 L693.8,185.8 L696.8,183.9 L699.8,182.1 L702.8,180.2 L705.8,178.4 L708.8,176.7 L711.8,175.0 L714.8,173.4 L717.8,171.7 L720.8,170.2 L723.8,168.7 L726.8,167.2 L729.8,165.7 L732.8,164.3 L735.8,163.0 L738.8,161.7 L741.8,160.4 L744.8,159.2 L747.8,158.0 L750.8,156.9 L753.8,155.8 L756.8,154.7 L759.8,153.7 L762.8,152.7 L765.8,151.8 L768.8,150.9 L771.8,150.1 L774.8,149.3 L777.8,148.6 L780.8,147.9 L783.8,147.2 L786.8,146.6 L789.8,146.0 L792.8,145.4 L795.8,144.9 L798.8,144.5 L801.8,144.1 L804.8,143.7 L807.8,143.4 L810.8,143.1 L813.8,142.9 L816.8,142.7 L819.8,142.5 L822.8,142.4 L825.8,142.3 L828.8,142.3 L831.8,142.3 L834.8,142.3 L837.8,142.4 L840.8,142.6 L843.8,142.8 L846.8,143.0 L849.8,143.2 L852.8,143.6 L855.8,143.9 L858.8,144.3 L861.8,144.7 L864.8,145.2 L867.8,145.7 L870.8,146.3 L873.8,146.9 L876.8,147.5 L879.8,148.2 L882.8,148.9 L885.8,149.7 L888.8,150.5 L891.8,151.4 L894.8,152.3 L897.8,153.2 L900.8,154.2 L903.8,155.2 L906.8,156.2 L909.8,157.4 L912.8,158.5 L915.8,159.7 L918.8,160.9 L921.8,162.2 L924.8,163.5 L927.8,164.8 L930.8,166.2 L933.8,167.7 L936.8,169.1 L939.8,170.7 L942.8,172.2 L945.8,173.8 L948.8,175.4 L951.8,177.1 L954.8,178.8 L957.8,180.5 L960.8,182.2 L963.8,184.0 L966.8,185.7 L969.8,187.5 L972.8,189.3 L975.8,191.1 L978.8,193.0 L981.8,194.8 L984.8,196.6 L987.8,198.5 L990.8,200.3 L993.8,202.2 L996.8,204.0 L999.8,205.8 L1002.8,207.6 L1005.8,209.5 L1008.8,211.3 L1011.8,213.0 L1014.8,214.8 L1017.8,216.5 L1020.8,218.3 L1023.8,220.0 L1026.8,221.6 L1029.8,223.3 L1032.8,224.9 L1035.8,226.4 L1038.8,228.0 L1041.8,229.5 L1044.8,230.9 L1047.8,232.4 L1050.8,233.7 L1053.8,235.0 L1056.8,236.3 L1059.8,237.6 L1062.8,238.7 L1065.8,239.9 L1068.8,241.0 L1071.8,242.0 L1074.8,243.0 L1077.8,243.9 L1080.8,244.7 L1083.8,245.5 L1086.8,246.2 L1089.8,246.9 L1092.8,247.5 L1095.8,248.1 L1098.8,248.5 L1101.8,248.9 L1104.8,249.2 L1107.8,249.5 L1110.8,249.7 L1113.8,249.8 L1116.8,249.8 L1119.8,249.8 L1122.8,249.6 L1125.8,249.4 L1128.8,249.1 L1131.8,248.7 L1134.0,248.4 L1146.0,246.4 L1158.0,244.4 L1169.9,242.4 L1181.9,240.3 L1193.9,238.1 L1205.8,235.9 L1217.8,233.6 L1229.8,231.3 L1241.8,228.8 L1253.8,226.3 L1265.7,223.7 L1277.7,221.0 L1289.7,218.2 L1301.7,215.3 L1313.6,212.3 L1325.6,209.2 L1337.6,206.0 L1349.5,202.7 L1361.5,199.2 L1373.5,195.6 L1385.5,191.9 L1397.5,188.0 L1409.4,183.9 L1421.4,179.8 L1433.4,175.4 L1445.3,170.9 L1457.3,166.2 L1469.3,161.4 L1481.3,156.4 L1493.2,151.2 L1505.2,145.8 L1517.2,140.2 L1529.2,134.4 L1541.2,128.4 L1553.1,122.2 L1565.1,115.8 L1577.1,109.2 L1589.0,102.4 L1601.0,95.3 L1613.0,88.0 L1618.8,84.4 L1624.7,80.8 L1630.5,77.3 L1636.3,73.8 L1642.1,70.3 L1648.0,66.8 L1653.8,63.3 L1659.6,59.8 L1665.4,56.3 L1671.2,52.7 L1677.1,49.1 L1682.9,45.5 L1688.7,41.9 L1694.5,38.2 L1700.4,34.4 L1706.2,30.6 L1712.0,26.7 L1717.8,22.7 L1723.7,18.6 L1729.5,14.5" stroke="#a8a806"/>
<path d="M141.8,1107.3 L143.3,1105.2 L144.8,1103.0 L146.3,1100.9 L147.8,1098.7 L149.3,1096.6 L150.8,1094.5 L152.3,1092.3 L153.8,1090.2 L155.3,1088.1 L156.8,1086.0 L158.3,1083.9 L159.8,1081.7 L161.3,1079.6 L162.8,1077.5 L164.3,1075.4 L165.8,1073.3 L167.3,1071.2 L168.8,1069.1 L170.3,1067.0 L171.8,1065.0 L173.3,1062.9 L174.8,1060.8 L176.3,1058.7 L177.8,1056.6 L179.3,1054.6 L180.8,1052.5 L182.3,1050.4 L183.8,1048.4 L185.3,1046.3 L186.8,1044.3 L188.3,1042.2 L189.8,1040.2 L191.3,1038.1 L192.8,1036.1 L194.3,1034.0 L195.8,1032.0 L197.3,1030.0 L198.8,1027.9 L200.3,1025.9 L201.8,1023.9 L204.8,1019.8 L207.8,1015.8 L210.8,1011.8 L213.8,1007.8 L216.8,1003.8 L219.8,999.8 L222.8,995.9 L225.8,991.9 L228.8,988.0 L231.8,984.0 L234.8,980.1 L237.8,976.2 L240.8,972.3 L243.8,968.4 L246.8,964.6 L249.8,960.7 L252.8,956.9 L255.8,953.0 L258.8,949.2 L261.8,945.4 L264.8,941.6 L267.8,937.8 L270.8,934.0 L273.8,930.2 L276.8,926.5 L279.8,922.7 L282.8,919.0 L285.8,915.3 L288.8,911.6 L291.8,907.9 L294.8,904.2 L297.8,900.5 L300.8,896.8 L303.8,893.2 L306.8,889.5 L309.8,885.9 L312.8,882.3 L315.8,878.7 L318.8,875.0 L321.8,871.5 L324.8,867.9 L327.8,864.3 L330.8,860.7 L333.8,857.2 L336.8,853.7 L339.8,850.1 L342.8,846.6 L345.8,843.1 L348.8,839.6 L351.8,836.1 L354.8,832.6 L357.8,829.2 L360.8,825.7 L363.8,822.3 L366.8,818.8 L369.8,815.4 L372.8,812.0 L375.8,808.6 L378.8,805.2 L381.8,801.8 L384.8,798.4 L387.8,795.1 L390.8,791.7 L393.8,788.3 L396.8,785.0 L399.8,781.7 L402.8,778.4 L405.8,775.1 L408.8,771.8 L411.8,768.5 L414.8,765.2 L417.8,761.9 L420.8,758.6 L423.8,755.4 L426.8,752.2 L429.8,748.9 L432.8,745.7 L435.8,742.5 L438.8,739.3 L441.8,736.1 L444.8,732.9 L447.8,729.7 L450.8,726.5 L453.8,723.4 L456.8,720.2 L459.8,717.1 L462.8,713.9 L465.8,710.8 L468.8,707.7 L471.8,704.6 L474.8,701.5 L477.8,698.4 L480.8,695.3 L483.8,692.2 L486.8,689.2 L489.8,686.1 L492.8,683.1 L495.8,680.0 L498.8,677.0 L501.8,674.0 L504.8,671.0 L507.8,668.0 L510.8,665.0 L513.8,662.0 L516.8,659.0 L519.8,656.0 L522.8,653.0 L525.8,650.1 L528.8,647.1 L531.8,644.2 L534.8,641.3 L537.8,638.3 L540.8,635.4 L543.8,632.5 L546.8,629.6 L549.8,626.7 L552.8,623.8 L555.8,620.9 L558.8,618.1 L561.8,615.2 L564.8,612.3 L567.8,609.5 L570.8,606.6 L573.8,603.8 L576.8,601.0 L579.8,598.1 L582.8,595.3 L585.8,592.5 L588.8,589.7 L591.8,586.9 L594.8,584.1 L597.8,581.4 L600.8,578.6 L603.8,575.8 L606.8,573.1 L609.8,570.3 L612.8,567.6 L615.8,564.8 L618.8,562.1 L621.8,559.4 L624.8,556.7 L627.8,554.0 L630.8,551.2 L633.8,548.6 L636.8,545.9 L639.8,543.2 L642.8,540.5 L645.8,537.8 L648.8,535.2 L651.8,532.5 L654.8,529.8 L657.8,527.2 L660.8,524.6 L663.8,521.9 L666.8,519.3 L669.8,516.7 L672.8,514.1 L675.8,511.4 L678.8,508.8 L681.8,506.2 L684.8,503.6 L687.8,501.1 L690.8,498.5 L693.8,495.9 L696.8,493.3 L699.8,490.8 L702.8,488.2 L705.8,485.7 L708.8,483.1 L711.8,480.6 L714.8,478.0 L717.8,475.5 L720.8,473.0 L723.8,470.5 L726.8,468.0 L729.8,465.5 L732.8,463.0 L735.8,460.5 L738.8,458.0 L741.8,455.6 L744.8,453.1 L747.8,450.7 L750.8,448.2 L753.8,445.8 L756.8,443.4 L759.8,441.0 L762.8,438.6 L765.8,436.2 L768.8,433.8 L771.8,431.4 L774.8,429.0 L777.8,426.7 L780.8,424.3 L783.8,422.0 L786.8,419.6 L789.8,417.3 L792.8,415.0 L795.8,412.7 L798.8,410.4 L801.8,408.1 L804.8,405.9 L807.8,403.6 L810.8,401.4 L813.8,399.1 L816.8,396.9 L819.8,394.7 L822.8,392.5 L825.8,390.3 L828.8,388.1 L831.8,385.9 L834.8,383.8 L837.8,381.6 L840.8,379.5 L843.8,377.4 L846.8,375.3 L849.8,373.2 L852.8,371.1 L855.8,369.0 L858.8,367.0 L861.8,364.9 L864.8,362.9 L867.8,360.9 L870.8,358.9 L873.8,356.9 L876.8,354.9 L879.8,353.0 L882.8,351.0 L885.8,349.1 L888.8,347.2 L891.8,345.3 L894.8,343.4 L897.8,341.5 L900.8,339.6 L903.8,337.8 L906.8,336.0 L909.8,334.1 L912.8,332.3 L915.8,330.6 L918.8,328.8 L921.8,327.0 L924.8,325.3 L927.8,323.6 L930.8,321.9 L933.8,320.2 L936.8,318.5 L939.8,316.9 L942.8,315.2 L945.8,313.6 L948.8,312.0 L951.8,310.4 L954.8,308.8 L957.8,307.3 L960.8,305.7 L963.8,304.2 L966.8,302.7 L969.8,301.2 L972.8,299.8 L975.8,298.3 L978.8,296.9 L981.8,295.5 L984.8,294.1 L987.8,292.7 L990.8,291.4 L993.8,290.1 L996.8,288.7 L999.8,287.5 L1002.8,286.2 L1005.8,284.9 L1008.8,283.7 L1011.8,282.5 L1014.8,281.3 L1017.8,280.2 L1020.8,279.0 L1023.8,277.9 L1026.8,276.8 L1029.8,275.7 L1032.8,274.7 L1035.8,273.7 L1038.8,272.7 L1041.8,271.7 L1044.8,270.7 L1047.8,269.8 L1050.8,268.9 L1053.8,268.0 L1056.8,267.2 L1059.8,266.4 L1062.8,265.5 L1065.8,264.8 L1068.8,264.0 L1071.8,263.3 L1074.8,262.6 L1077.8,261.9 L1080.8,261.3 L1083.8,260.7 L1086.8,260.1 L1089.8,259.5 L1092.8,259.0 L1095.8,258.5 L1098.8,258.0 L1101.8,257.5 L1104.8,257.1 L1107.8,256.7 L1110.8,256.4 L1113.8,256.0 L1116.8,255.7 L1119.8,255.5 L1122.8,255.2 L1125.8,255.0 L1128.8,254.8 L1131.8,254.7 L1134.0,254.6 L1146.5,254.0 L1159.0,253.3 L1171.4,252.3 L1183.9,251.2 L1196.4,249.9 L1208.8,248.4 L1221.3,246.7 L1233.8,244.8 L1246.3,242.7 L1258.8,240.5 L1271.2,238.0 L1283.7,235.4 L1296.2,232.6 L1308.7,229.6 L1321.1,226.4 L1333.6,223.0 L1346.1,219.4 L1358.5,215.7 L1371.0,211.8 L1383.5,207.7 L1396.0,203.4 L1408.5,198.9 L1420.9,194.3 L1433.4,189.4 L1445.9,184.4 L1458.3,179.2 L1470.8,173.8 L1483.3,168.3 L1495.8,162.6 L1508.2,156.7 L1520.7,150.6 L1533.2,144.3 L1545.7,137.9 L1558.2,131.3 L1570.6,124.5 L1583.1,117.6 L1595.6,110.4 L1608.0,103.1 L1620.5,95.6 L1633.0,88.0 L1637.8,84.9 L1642.7,81.7 L1647.5,78.4 L1652.3,74.9 L1657.1,71.4 L1662.0,67.7 L1666.8,64.0 L1671.6,60.2 L1676.4,56.3 L1681.2,52.5 L1686.1,48.6 L1690.9,44.6 L1695.7,40.7 L1700.5,36.8 L1705.4,33.0 L1710.2,29.1 L1715.0,25.4 L1719.8,21.6 L1724.7,18.0 L1729.5,14.5" stroke="#a602a8"/>
</g>
<g stroke="#000" stroke-width="4.2" fill="none">
<path d="M141.8,12.4 L141.8,1107.3 L1731.6,1107.3"/>
<line x1="141.8" y1="1107.3" x2="141.8" y2="1119.3"/>
<line x1="459.3" y1="1107.3" x2="459.3" y2="1119.3"/>
<line x1="776.9" y1="1107.3" x2="776.9" y2="1119.3"/>
<line x1="1094.4" y1="1107.3" x2="1094.4" y2="1119.3"/>
<line x1="1412.0" y1="1107.3" x2="1412.0" y2="1119.3"/>
<line x1="1729.5" y1="1107.3" x2="1729.5" y2="1119.3"/>
<line x1="128.3" y1="1107.3" x2="141.8" y2="1107.3"/>
<line x1="128.3" y1="888.7" x2="141.8" y2="888.7"/>
<line x1="128.3" y1="670.2" x2="141.8" y2="670.2"/>
<line x1="128.3" y1="451.6" x2="141.8" y2="451.6"/>
<line x1="128.3" y1="233.1" x2="141.8" y2="233.1"/>
<line x1="128.3" y1="14.5" x2="141.8" y2="14.5"/>
</g>
<g class="ax" text-anchor="middle">
<text x="140.3" y="1155" textLength="16.9" lengthAdjust="spacingAndGlyphs">0</text>
<text x="459.3" y="1155" textLength="42.3" lengthAdjust="spacingAndGlyphs">0.2</text>
<text x="776.9" y="1155" textLength="42.3" lengthAdjust="spacingAndGlyphs">0.4</text>
<text x="1094.4" y="1155" textLength="42.3" lengthAdjust="spacingAndGlyphs">0.6</text>
<text x="1412.0" y="1155" textLength="42.3" lengthAdjust="spacingAndGlyphs">0.8</text>
<text x="1729.5" y="1155" textLength="42.3" lengthAdjust="spacingAndGlyphs">1.0</text>
</g>
<g class="ax" text-anchor="end">
<text x="115.8" y="1116.6" textLength="16.9" lengthAdjust="spacingAndGlyphs">0</text>
<text x="115.8" y="898.0" textLength="42.3" lengthAdjust="spacingAndGlyphs">0.2</text>
<text x="115.8" y="679.5" textLength="42.3" lengthAdjust="spacingAndGlyphs">0.4</text>
<text x="115.8" y="460.9" textLength="42.3" lengthAdjust="spacingAndGlyphs">0.6</text>
<text x="115.8" y="242.4" textLength="42.3" lengthAdjust="spacingAndGlyphs">0.8</text>
<text x="115.8" y="23.8" textLength="42.3" lengthAdjust="spacingAndGlyphs">1.0</text>
</g>
<text class="ttl" x="812.5" y="1219.5" textLength="207" lengthAdjust="spacingAndGlyphs">1-Specificity</text>
<text class="ttl" transform="translate(32.5,636) rotate(-90)" textLength="172" lengthAdjust="spacingAndGlyphs">Sensitivity</text>
<rect x="1134.4" y="88.4" width="571.1" height="397.6" fill="#fff" stroke="#3a3a3a" stroke-width="2.8"/>
<g class="leg">
<line x1="1158.5" y1="138.2" x2="1209.5" y2="138.2" stroke="#fa0408" stroke-width="6"/>
<text x="1216" y="154.2" textLength="314.5" lengthAdjust="spacingAndGlyphs">CD4<tspan dy="-13" font-size="27">+</tspan><tspan dy="13">/CD8</tspan><tspan dy="-13" font-size="27">+</tspan><tspan dy="13">(AUC=0.806)</tspan></text>
<line x1="1158.5" y1="188.2" x2="1209.5" y2="188.2" stroke="#a8a806" stroke-width="6"/>
<text x="1216" y="200.9" textLength="483.0" lengthAdjust="spacingAndGlyphs">Time from diagnosis to EPAG (AUC=0.772)</text>
<line x1="1158.5" y1="237.3" x2="1209.5" y2="237.3" stroke="#0202f0" stroke-width="6"/>
<text x="1216" y="249.0" textLength="329.0" lengthAdjust="spacingAndGlyphs">Lymphocyte (AUC=0.765)</text>
<line x1="1158.5" y1="286.8" x2="1209.5" y2="286.8" stroke="#08a8ac" stroke-width="6"/>
<text x="1216" y="299.0" textLength="210.0" lengthAdjust="spacingAndGlyphs">PLT(AUC=0.749)</text>
<line x1="1158.5" y1="336.2" x2="1209.5" y2="336.2" stroke="#ff9905" stroke-width="6"/>
<text x="1216" y="347.3" textLength="226.0" lengthAdjust="spacingAndGlyphs">WBC(AUC=0.724)</text>
<line x1="1158.5" y1="387.2" x2="1209.5" y2="387.2" stroke="#06a506" stroke-width="6"/>
<text x="1216" y="396.3" textLength="375.0" lengthAdjust="spacingAndGlyphs">Disease severity (AUC=0.723)</text>
<line x1="1158.5" y1="436.2" x2="1209.5" y2="436.2" stroke="#a602a8" stroke-width="6"/>
<text x="1216" y="445.4" textLength="210.0" lengthAdjust="spacingAndGlyphs">N%(AUC=0.683)</text>
</g>
</svg>
</body></html>
